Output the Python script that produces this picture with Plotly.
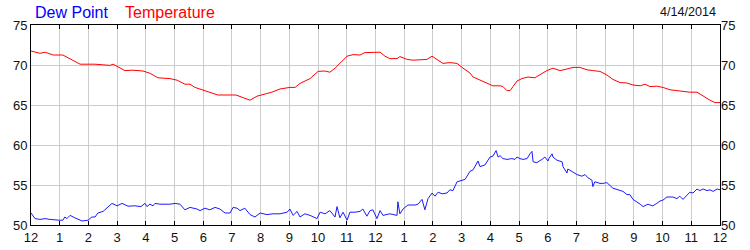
import plotly.graph_objects as go

# Hours since midnight, 4/14/2014
temp_hours = [0.00, 0.31, 0.49, 0.77, 1.11, 1.36, 1.60, 1.71, 2.23, 2.58, 2.75, 2.86, 3.00, 3.10,
              3.27, 3.55, 3.90, 4.15, 4.42, 4.84, 5.09, 5.36, 5.54, 5.71, 5.99, 6.23, 6.51, 7.14,
              7.38, 7.63, 7.87, 8.15, 8.39, 8.67, 9.02, 9.20, 9.37, 9.72, 10.00, 10.24, 10.41,
              10.59, 10.83, 11.01, 11.22, 11.46, 11.63, 11.98, 12.16, 12.33, 12.50, 12.75, 12.85,
              13.10, 13.31, 13.55, 13.79, 13.97, 14.14, 14.35, 14.59, 14.84, 15.05, 15.29, 15.40,
              15.64, 15.88, 16.09, 16.34, 16.44, 16.58, 16.69, 16.79, 16.93, 17.10, 17.31, 17.55,
              17.73, 17.97, 18.18, 18.43, 18.67, 18.88, 19.12, 19.37, 19.57, 19.82, 20.06, 20.27,
              20.52, 20.76, 20.97, 21.22, 21.39, 21.56, 21.80, 22.01, 22.26, 22.50, 22.71, 22.95,
              23.20, 23.41, 23.65, 23.83, 24.00]
temperature = [71.75, 71.46, 71.6, 71.25, 71.25, 70.8, 70.4, 70.1, 70.1, 70.05, 69.95, 70.1, 69.8, 69.6,
               69.3, 69.35, 69.25, 68.96, 68.4, 68.3, 68.1, 67.6, 67.6, 67.2, 66.9, 66.6, 66.25, 66.25,
               65.9, 65.6, 66.1, 66.4, 66.6, 67.0, 67.2, 67.2, 67.7, 68.3, 69.2, 69.25, 69.1,
               69.6, 70.4, 71.1, 71.3, 71.25, 71.55, 71.6, 71.6, 71.1, 70.8, 70.8, 71.05,
               70.7, 70.6, 70.65, 70.7, 71.1, 70.7, 70.2, 70.3, 70.2, 69.6, 69.0, 68.5,
               68.1, 67.8, 67.4, 67.4, 67.3, 66.8, 66.8, 67.3, 68.0, 68.3, 68.5, 68.4,
               68.75, 69.3, 69.6, 69.3, 69.5, 69.7, 69.7, 69.4, 69.3, 69.2, 68.75, 68.2,
               67.8, 67.75, 67.5, 67.4, 67.6, 67.3, 67.35, 67.2, 66.9, 66.8, 66.7, 66.6,
               66.6, 66.1, 65.6, 65.3, 65.3]

dew_hours = [0.00, 0.14, 0.31, 0.49, 0.66, 0.84, 0.98, 1.11, 1.18, 1.25, 1.36, 1.53, 1.78, 1.99,
             2.12, 2.23, 2.33, 2.51, 2.69, 2.82, 3.00, 3.17, 3.38, 3.62, 3.83, 3.97, 4.04, 4.14,
             4.25, 4.32, 4.49, 4.84, 5.02, 5.19, 5.36, 5.54, 5.78, 5.89, 6.06, 6.23, 6.41, 6.58,
             6.76, 6.93, 7.04, 7.18, 7.28, 7.45, 7.63, 7.80, 7.98, 8.22, 8.43, 8.67, 8.92, 9.02,
             9.13, 9.27, 9.37, 9.54, 9.72, 9.96, 10.07, 10.24, 10.41, 10.59, 10.66, 10.76, 10.87,
             11.01, 11.11, 11.29, 11.46, 11.56, 11.70, 11.81, 11.91, 12.05, 12.16, 12.26, 12.50,
             12.75, 12.78, 12.85, 12.96, 13.13, 13.38, 13.48, 13.62, 13.72, 13.83, 13.97, 14.07,
             14.18, 14.32, 14.49, 14.59, 14.70, 14.84, 15.01, 15.12, 15.29, 15.40, 15.57, 15.64,
             15.81, 15.99, 16.09, 16.20, 16.27, 16.34, 16.44, 16.58, 16.75, 16.86, 16.93, 17.03,
             17.14, 17.28, 17.38, 17.45, 17.49, 17.62, 17.80, 17.90, 18.01, 18.04, 18.15, 18.18,
             18.32, 18.50, 18.53, 18.67, 18.70, 18.84, 18.95, 19.02, 19.19, 19.30, 19.40, 19.54,
             19.57, 19.64, 19.82, 19.92, 20.06, 20.17, 20.27, 20.45, 20.62, 20.76, 20.86, 20.97,
             21.11, 21.22, 21.32, 21.49, 21.56, 21.66, 21.80, 21.91, 22.01, 22.15, 22.26, 22.36,
             22.50, 22.60, 22.71, 22.85, 22.95, 23.06, 23.20, 23.30, 23.41, 23.55, 23.65, 23.76,
             23.90, 24.00]
dew_point = [51.5, 50.8, 50.7, 50.8, 50.7, 50.6, 50.6, 50.6, 51.0, 50.8, 51.2, 50.9, 50.5, 50.6,
             51.0, 51.0, 51.5, 51.7, 52.3, 52.7, 52.4, 52.7, 52.35, 52.4, 52.3, 52.7, 52.3, 52.6,
             52.4, 52.7, 52.6, 52.6, 52.7, 52.6, 51.9, 52.2, 52.0, 51.8, 52.1, 51.9, 52.2, 52.0,
             51.5, 51.5, 52.2, 52.1, 51.8, 52.1, 51.3, 51.0, 51.5, 51.3, 51.4, 51.4, 51.6, 52.0,
             51.2, 51.7, 51.0, 51.4, 51.2, 50.8, 51.6, 51.4, 51.8, 51.0, 52.3, 50.9, 51.6,
             50.6, 51.6, 51.6, 51.7, 52.0, 51.1, 51.8, 51.9, 50.8, 51.8, 51.2, 51.4,
             51.2, 52.9, 51.4, 52.0, 52.5, 52.5, 52.6, 53.2, 51.9, 53.3, 54.0, 53.6,
             54.1, 53.9, 54.0, 54.4, 54.3, 55.4, 55.6, 55.7, 56.7, 56.9, 58.0, 57.3,
             57.5, 58.5, 58.6, 59.3, 58.5, 58.66, 58.3, 58.2, 58.3, 58.2, 58.5, 58.3,
             58.2, 58.3, 58.9, 59.2, 57.9, 57.8, 58.2, 58.5, 58.0, 58.3, 58.9, 58.5,
             58.1, 57.9, 57.3, 56.5, 57.0, 56.7, 56.5, 56.3, 56.1, 56.3, 55.9, 55.6,
             54.8, 55.4, 55.2, 55.2, 55.3, 54.9, 54.6, 54.4, 54.2, 53.8, 53.8, 53.2,
             52.9, 52.6, 52.3, 52.6, 52.5, 52.4, 52.7, 53.0, 53.1, 53.5, 53.5, 53.5,
             53.3, 53.6, 53.2, 53.75, 54.1, 54.0, 54.5, 54.3, 54.5, 54.3, 54.4, 54.2,
             54.5, 54.4]

hour_ticks = list(range(0, 25))
hour_labels = ["12", "1", "2", "3", "4", "5", "6", "7", "8", "9", "10", "11",
               "12", "1", "2", "3", "4", "5", "6", "7", "8", "9", "10", "11", "12"]
y_ticks = [50, 55, 60, 65, 70, 75]
date_label = "4/14/2014"

FONT = "Arial, 'Liberation Sans', sans-serif"
GRID = "#cccccc"

fig = go.Figure()
fig.add_trace(go.Scatter(x=dew_hours, y=dew_point, mode="lines", name="Dew Point",
                         line=dict(color="#1a1aff", width=1), hoverinfo="skip"))
fig.add_trace(go.Scatter(x=temp_hours, y=temperature, mode="lines", name="Temperature",
                         line=dict(color="#ff0000", width=1), hoverinfo="skip"))
# invisible trace to carry the right-hand axis
fig.add_trace(go.Scatter(x=[0], y=[50], yaxis="y2", mode="lines",
                         line=dict(width=0), showlegend=False, hoverinfo="skip"))

fig.update_layout(
    width=750, height=250,
    margin=dict(l=31, r=30, t=25, b=25, autoexpand=False),
    paper_bgcolor="white", plot_bgcolor="white",
    showlegend=False,
    font=dict(family=FONT, size=13, color="#111111"),
    xaxis=dict(range=[0, 24], tickmode="array", tickvals=hour_ticks, ticktext=hour_labels,
               showgrid=True, gridcolor=GRID, gridwidth=1, automargin=False,
               showline=True, linecolor="black", linewidth=1, mirror="ticks",
               ticks="inside", ticklen=4, tickcolor="black", tickwidth=1,
               zeroline=False, tickfont=dict(size=13)),
    yaxis=dict(range=[50, 75], tickmode="array", tickvals=y_ticks, automargin=False,
               showgrid=True, gridcolor=GRID, gridwidth=1,
               showline=True, linecolor="black", linewidth=1, mirror=True,
               ticks="", zeroline=False, tickfont=dict(size=13)),
    yaxis2=dict(range=[50, 75], tickmode="array", tickvals=y_ticks, overlaying="y",
                side="right", showgrid=False, showline=False, ticks="", automargin=False,
                zeroline=False, tickfont=dict(size=13)),
    annotations=[
        dict(text="Dew Point", x=33, y=12, xref="paper", yref="paper", showarrow=False,
             font=dict(color="#0000ff", size=16, family=FONT), xanchor="left", yanchor="middle"),
        dict(text="Temperature", x=123, y=12, xref="paper", yref="paper", showarrow=False,
             font=dict(color="#ff0000", size=16, family=FONT), xanchor="left", yanchor="middle"),
        dict(text=date_label, x=718, y=12, xref="paper", yref="paper", showarrow=False,
             font=dict(color="#111111", size=12.6, family=FONT), xanchor="right", yanchor="middle"),
    ],
)

# convert pixel-placed annotations to paper coordinates
pw, ph = 750 - 31 - 30, 250 - 25 - 25
for a in fig.layout.annotations:
    a.x = (a.x - 31) / pw
    a.y = 1 + (25 - a.y) / ph

fig.write_html("out.html")
